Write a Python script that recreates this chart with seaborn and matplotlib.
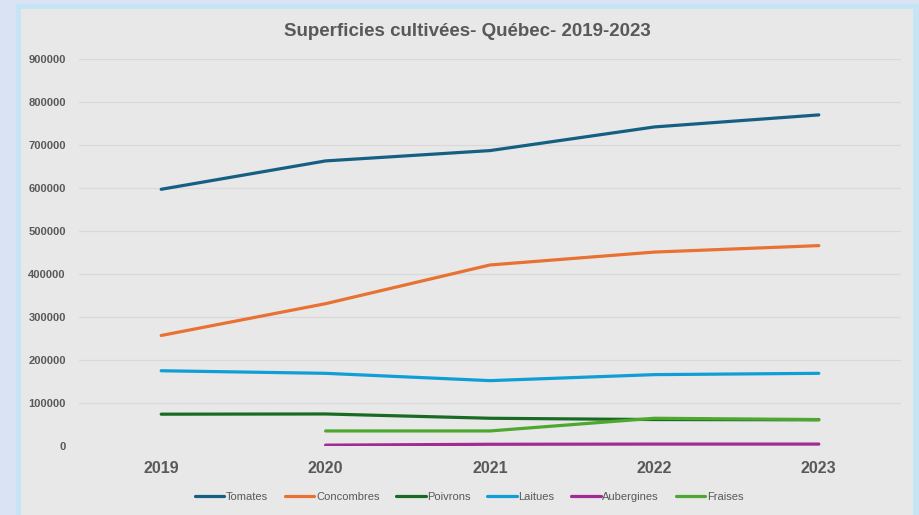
import matplotlib
matplotlib.use("Agg")
import matplotlib.pyplot as plt
from matplotlib.patches import Rectangle
import seaborn as sns
import pandas as pd
import numpy as np

# Superficies cultivées par culture (Québec)
years = [2019, 2020, 2021, 2022, 2023]
tomates = [597000, 663000, 687000, 742000, 770000]
concombres = [257000, 331000, 421000, 451000, 466000]
poivrons = [74000, 74500, 64500, 61500, 61000]
laitues = [175000, 169000, 152000, 166000, 169000]
aubergines = [np.nan, 2000, 4000, 4500, 4500]
fraises = [np.nan, 35000, 35000, 64500, 61500]

cultures = ["Tomates", "Concombres", "Poivrons", "Laitues", "Aubergines", "Fraises"]
series = [tomates, concombres, poivrons, laitues, aubergines, fraises]
colors = ["#156082", "#E97132", "#196B24", "#0F9ED5", "#A02B93", "#4EA72E"]
y_ticks = list(range(0, 900001, 100000))
title = "Superficies cultivées- Québec- 2019-2023"

df = pd.DataFrame(
    [(c, y, v) for c, vals in zip(cultures, series) for y, v in zip(years, vals)],
    columns=["Culture", "Année", "Superficie"],
).dropna()

sns.set_style("white")
plt.rcParams["font.family"] = ["Liberation Sans", "DejaVu Sans"]
text_color = "#595959"

fig = plt.figure(figsize=(9.19, 5.15), dpi=100, facecolor="#DAE3F3")
W, H = 919, 515
# bordure bleu clair et panneau gris
fig.patches.append(Rectangle((16 / W, 0), (W - 16) / W, (H - 4) / H,
                             transform=fig.transFigure, facecolor="#C5E5F5",
                             edgecolor="none", zorder=-2))
fig.patches.append(Rectangle((21 / W, 0), (913 - 21) / W, (H - 9) / H,
                             transform=fig.transFigure, facecolor="#E8E8E8",
                             edgecolor="none", zorder=-1))

ax = fig.add_axes([79 / W, 1 - 446 / H, (901 - 79) / W, (446 - 59) / H])
ax.set_facecolor("none")
ax.set_zorder(1)

sns.lineplot(data=df, x="Année", y="Superficie", hue="Culture",
             hue_order=cultures, palette=colors, linewidth=2.3,
             ax=ax, legend=False, solid_capstyle="round", zorder=3)

ax.set_xlim(years[0] - 0.5, years[-1] + 0.5)
ax.set_ylim(0, y_ticks[-1])
ax.set_xticks(years)
ax.set_xticklabels([str(y) for y in years])
ax.set_yticks(y_ticks)
ax.set_yticklabels([str(t) for t in y_ticks])
ax.set_xlabel("")
ax.set_ylabel("")
for s in ax.spines.values():
    s.set_visible(False)
ax.set_axisbelow(True)
ax.grid(axis="y", color="#D9D9D9", linewidth=0.9)
ax.grid(axis="x", visible=False)
ax.tick_params(axis="y", length=0, pad=9.5, labelsize=8, labelcolor=text_color)
ax.tick_params(axis="x", length=0, pad=11, labelsize=11.5, labelcolor=text_color)
for lab in ax.get_yticklabels() + ax.get_xticklabels():
    lab.set_fontweight("bold")

fig.text(467 / W, 1 - 31 / H, title, ha="center", va="center",
         fontsize=13.5, fontweight="bold", color=text_color)

handles = [plt.Line2D([], [], color=c, linewidth=2.3, solid_capstyle="round")
           for c in colors]
leg = fig.legend(handles, cultures, loc="center",
                 bbox_to_anchor=(469 / W, 1 - 497 / H), ncol=6, frameon=False,
                 fontsize=8, handlelength=2.65, handletextpad=0.15,
                 columnspacing=1.5)
for t in leg.get_texts():
    t.set_color(text_color)

fig.savefig("out.png", dpi=100, facecolor=fig.get_facecolor())
